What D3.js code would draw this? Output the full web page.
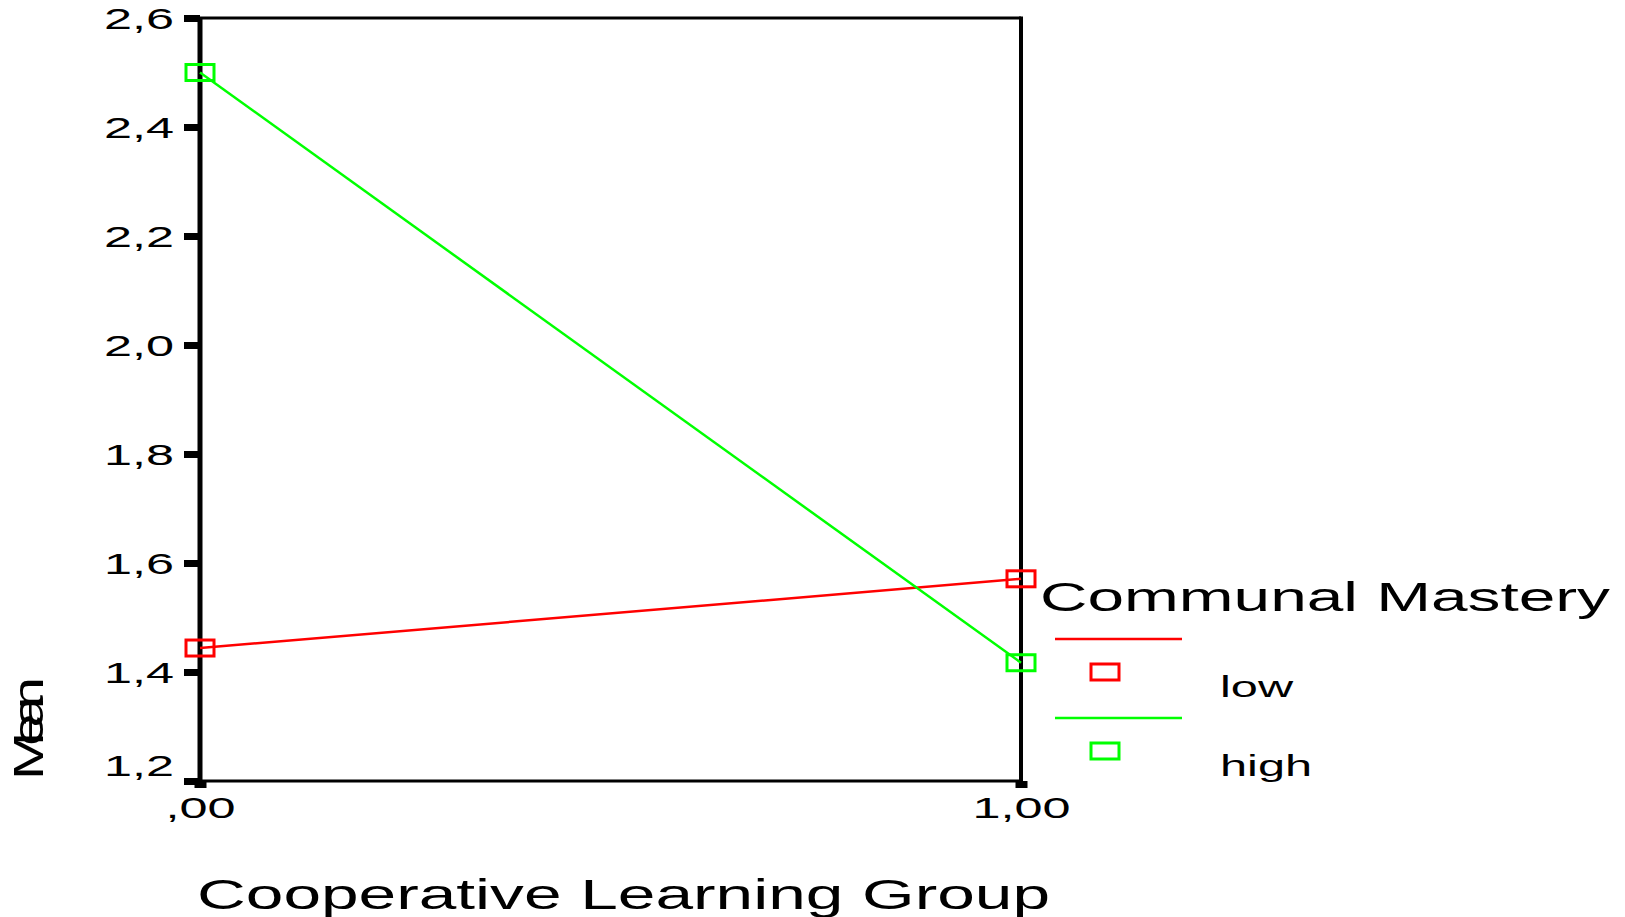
<!DOCTYPE html>
<html>
<head>
<meta charset="utf-8">
<script src="https://cdn.jsdelivr.net/npm/d3@7"></script>
<style>
  body { margin: 0; background: #fff; }
  svg { display: block; font-family: "Liberation Sans", Arial, sans-serif; }
</style>
</head>
<body>
<div id="vis"></div>
<script>
// data
var groups = [0, 1];
var groupLabels = [",00", "1,00"];
var seriesNames = ["low", "high"];
var seriesColors = ["#ff0000", "#00ff00"];
var lowMeans = [1.444, 1.571];
var highMeans = [2.5, 1.417];
var yTicks = [1.2, 1.4, 1.6, 1.8, 2.0, 2.2, 2.4, 2.6];

var width = 1625, height = 917,
    stretch = 1.68;  // text in the original is stretched sideways

var svg = d3.select('#vis').append('svg')
    .attr('width', width)
    .attr('height', height);

var x = d3.scaleLinear().domain([0, 1]).range([200, 1021]);
var y = d3.scaleLinear().domain([1.2, 2.6]).range([781, 18]);

// frame
svg.append('line').attr('x1', x(0)).attr('x2', x(1)).attr('y1', y(2.6)).attr('y2', y(2.6))
    .attr('stroke', '#000').attr('stroke-width', 3);
svg.append('line').attr('x1', x(1)).attr('x2', x(1)).attr('y1', y(2.6) - 1.5).attr('y2', y(1.2))
    .attr('stroke', '#000').attr('stroke-width', 4);
svg.append('line').attr('x1', x(0)).attr('x2', x(1)).attr('y1', y(1.2)).attr('y2', y(1.2))
    .attr('stroke', '#000').attr('stroke-width', 3);
svg.append('line').attr('x1', x(0)).attr('x2', x(0)).attr('y1', y(2.6) - 1).attr('y2', y(1.2) + 2)
    .attr('stroke', '#000').attr('stroke-width', 5);

// y axis
var yAxis = svg.append('g')
    .attr('transform', 'translate(' + x(0) + ',0)')
    .call(d3.axisLeft(y)
      .tickValues(yTicks)
      .tickSize(16)
      .tickFormat(function(d) { return d3.format('.1f')(d).replace('.', ','); }));
yAxis.select('.domain').remove();
yAxis.selectAll('.tick line').attr('stroke', '#000').attr('stroke-width', 7);
yAxis.selectAll('.tick text')
    .attr('x', -26 / stretch)
    .attr('dy', function(d, i) { return i === 0 ? '-0.2em' : '0.35em'; })
    .attr('transform', 'scale(' + stretch + ',1)')
    .attr('font-size', 30)
    .attr('font-family', '"Liberation Sans", Arial, sans-serif')
    .attr('fill', '#000');

// x axis
var xAxis = svg.append('g')
    .attr('transform', 'translate(0,' + y(1.2) + ')')
    .call(d3.axisBottom(x)
      .tickValues(groups)
      .tickSize(7)
      .tickFormat(function(d, i) { return groupLabels[i]; }));
xAxis.select('.domain').remove();
xAxis.selectAll('.tick line').attr('stroke', '#000').attr('stroke-width', 12);
xAxis.selectAll('.tick text')
    .attr('y', 37)
    .attr('dy', 0)
    .attr('transform', 'scale(' + stretch + ',1)')
    .attr('font-size', 30)
    .attr('font-family', '"Liberation Sans", Arial, sans-serif')
    .attr('fill', '#000');

// lines and markers
var series = [lowMeans, highMeans];
var line = d3.line()
    .x(function(d, i) { return x(groups[i]); })
    .y(function(d) { return y(d); });

series.forEach(function(vals, s) {
  svg.append('path')
      .datum(vals)
      .attr('d', line)
      .attr('fill', 'none')
      .attr('stroke', seriesColors[s])
      .attr('stroke-width', 2.5);

  svg.selectAll('.m' + s)
    .data(vals)
    .enter().append('rect')
      .attr('class', 'm' + s)
      .attr('x', function(d, i) { return x(groups[i]) - 14; })
      .attr('y', function(d) { return y(d) - 8; })
      .attr('width', 28)
      .attr('height', 16)
      .attr('fill', 'none')
      .attr('stroke', seriesColors[s])
      .attr('stroke-width', 3);
});

// axis titles
svg.append('text')
    .attr('x', 197)
    .attr('y', 909)
    .attr('font-size', 42)
    .attr('textLength', 853)
    .attr('lengthAdjust', 'spacingAndGlyphs')
    .text('Cooperative Learning Group');

svg.append('text')
    .attr('transform', 'translate(43,780) rotate(-90) scale(1,0.72)')
    .attr('font-size', 58)
    .attr('letter-spacing', -14)
    .text('Mean');

// legend
var legend = svg.append('g');
legend.append('text')
    .attr('x', 1040)
    .attr('y', 611)
    .attr('font-size', 40)
    .attr('textLength', 570)
    .attr('lengthAdjust', 'spacingAndGlyphs')
    .text('Communal Mastery');

var item = legend.selectAll('.item')
    .data(seriesNames)
  .enter().append('g')
    .attr('class', 'item')
    .attr('transform', function(d, i) { return 'translate(0,' + (i * 79) + ')'; });

item.append('line')
    .attr('x1', 1055).attr('x2', 1182)
    .attr('y1', 639).attr('y2', 639)
    .attr('stroke', function(d, i) { return seriesColors[i]; })
    .attr('stroke-width', 2.5);

item.append('rect')
    .attr('x', 1091).attr('y', 664)
    .attr('width', 28).attr('height', 16)
    .attr('fill', 'none')
    .attr('stroke', function(d, i) { return seriesColors[i]; })
    .attr('stroke-width', 3);

item.append('text')
    .attr('x', 1220 / stretch)
    .attr('y', 697)
    .attr('transform', 'scale(' + stretch + ',1)')
    .attr('font-size', 29)
    .text(function(d) { return d; });
</script>
</body>
</html>
